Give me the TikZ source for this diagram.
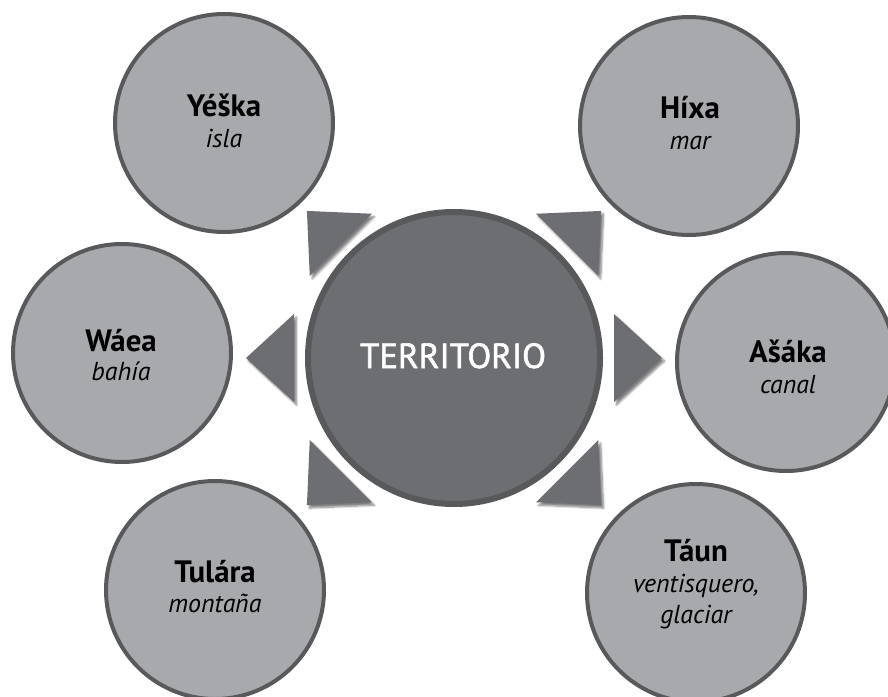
\documentclass[tikz,border=0pt]{standalone}
\usepackage{fontspec}
\setmainfont{PT Sans}
\newfontfamily\corefont[FakeBold=1.6]{PT Sans}
\usetikzlibrary{shadows.blur,calc}
\definecolor{outerfill}{HTML}{A7A9AC}
\definecolor{ringline}{HTML}{58595B}
\definecolor{corefill}{HTML}{6D6E71}
\tikzset{
  outer/.style={circle, fill=outerfill, draw=ringline, line width=4bp, minimum size=218bp, inner sep=0pt},
  core/.style={circle, fill=corefill, draw=ringline, line width=6bp, minimum size=292bp, inner sep=0pt},
  namelbl/.style={anchor=base, font=\bfseries\fontsize{31}{31}\selectfont, inner sep=0pt},
  glosslbl/.style={anchor=base, font=\itshape\fontsize{26}{26}\selectfont, inner sep=0pt},
  corelbl/.style={anchor=base, font=\corefont\fontsize{35}{35}\selectfont, text=white, inner sep=0pt},
  pointer/.style={fill=corefill, blur shadow={shadow xshift=2.5bp, shadow yshift=-3bp, shadow blur steps=6, shadow opacity=50}},
}
\begin{document}
\begin{tikzpicture}[x=1bp,y=-1bp]
\useasboundingbox (0,0) rectangle (888,697);
% outer circles
\node[outer] (yeska)  at (224,123) {};
\node[outer] (hixa)   at (689,126) {};
\node[outer] (waea)   at (122,353) {};
\node[outer] (asaka)  at (786,362) {};
\node[outer] (tulara) at (215,590) {};
\node[outer] (taun)   at (696,593) {};
% center
\node[core] (core) at (454,358) {};
\node[corelbl] (coretxt) at (453,368) {TERRITORIO};
% labels
\node[namelbl]  (yeskan) at (224,117) {Yéška};
\node[glosslbl] (yeskag) at (224,148) {isla};
\node[namelbl]  (hixan) at (690,119) {Híxa};
\node[glosslbl] (hixag) at (690,150) {mar};
\node[namelbl]  (waean) at (121,351) {Wáea};
\node[glosslbl] (waeag) at (121,380) {bahía};
\node[namelbl]  (asakan) at (788,362) {Ašáka};
\node[glosslbl] (asakag) at (788,393) {canal};
\node[namelbl]  (tularan) at (215,582) {Tulára};
\node[glosslbl] (tularag) at (215,612) {montaña};
\node[namelbl]  (taunn) at (696,561) {Táun};
\node[glosslbl] (taung1) at (696,592) {ventisquero,};
\node[glosslbl] (taung2) at (696,623) {glaciar};
% pointers
\foreach \a in {0,180,45,135,-45,-135}{
  \fill[pointer] ($(core.center)+(\a:160)+(\a+90:44)$) -- ($(core.center)+(\a:208)$) -- ($(core.center)+(\a:160)+(\a-90:44)$) -- cycle;
}
\end{tikzpicture}
\end{document}
